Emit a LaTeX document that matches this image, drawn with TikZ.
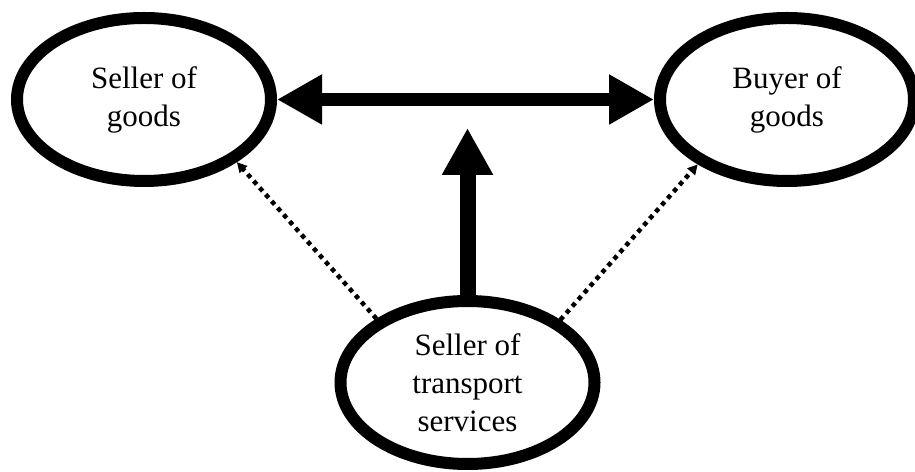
\documentclass[tikz,border=0pt]{standalone}
\usepackage{fontspec}
\setmainfont{Liberation Serif}
\usetikzlibrary{arrows.meta, shapes.geometric}

\begin{document}
\begin{tikzpicture}[x=1pt, y=1pt,
	party/.style={ellipse, draw, line width=12pt, minimum width=254pt, minimum height=163pt,
		inner sep=0pt, align=center, font=\fontsize{31}{38}\selectfont},
	flow/.style={line width=13pt},
	hint/.style={line width=4.5pt, dash pattern=on 4.5pt off 4.5pt, -{Triangle[length=10pt, width=10pt]}}]
	\useasboundingbox (0,0) rectangle (915,471);
	% the three parties
	\node[party] (sog) at (144,371.5) {Seller of\\goods};
	\node[party] (bog) at (787,371.5) {Buyer of\\goods};
	\node[party] (sts) at (467.5,88.5) {Seller of\\transport\\services};
	% tip of the upward arrow
	\coordinate (T) at (467.5,343);
	\draw[flow, {Triangle[length=45pt, width=47pt]}-{Triangle[length=45pt, width=47pt]}] (sog) -- (bog);
	\draw[flow, line width=16pt, -{Triangle[length=47pt, width=48pt]}] (sts.north) -- (T);
	% indirect links
	\draw[hint] (sts.145.8) -- (sog.-34.3);
	\draw[hint] (sts.34.5) -- (bog.-144.3);
\end{tikzpicture}
\end{document}
